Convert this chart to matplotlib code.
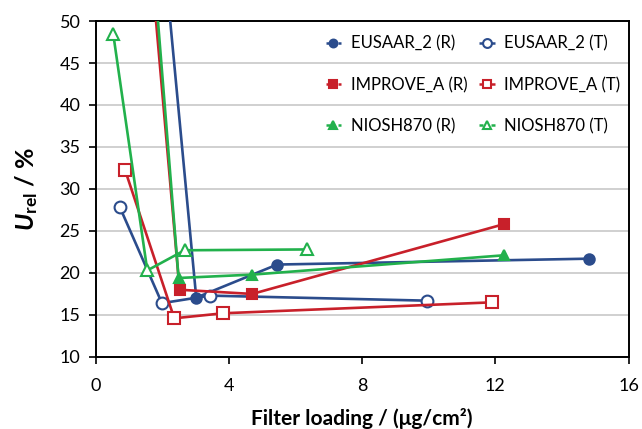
import matplotlib
matplotlib.use("Agg")
import matplotlib.pyplot as plt

plt.rcParams['font.family'] = ['Lato', 'DejaVu Sans']
plt.rcParams['mathtext.fontset'] = 'custom'
plt.rcParams['mathtext.bf'] = 'Lato:bold'
plt.rcParams['mathtext.it'] = 'Lato:italic'
plt.rcParams['mathtext.rm'] = 'Lato'
try:
    plt.rcParams['mathtext.bfit'] = 'Lato:bold:italic'
except Exception:
    pass

# Data
eusaar_r_x = [1.1, 3.02, 5.45, 14.8]
eusaar_r_y = [98.0, 17.06, 21.0, 21.7]
eusaar_t_x = [0.73, 1.99, 3.42, 9.95]
eusaar_t_y = [27.8, 16.4, 17.3, 16.7]
improve_r_x = [0.95, 2.52, 4.7, 12.25]
improve_r_y = [89.0, 18.0, 17.5, 25.8]
improve_t_x = [0.88, 2.36, 3.83, 11.9]
improve_t_y = [32.3, 14.6, 15.2, 16.5]
niosh_r_x = [0.9, 2.49, 4.7, 12.25]
niosh_r_y = [98.0, 19.4, 19.8, 22.1]
niosh_t_x = [0.53, 1.55, 2.67, 6.36]
niosh_t_y = [48.4, 20.3, 22.7, 22.8]

labels = ['EUSAAR_2 (R)', 'EUSAAR_2 (T)', 'IMPROVE_A (R)', 'IMPROVE_A (T)',
          'NIOSH870 (R)', 'NIOSH870 (T)']
x_ticks = [0, 4, 8, 12, 16]
y_ticks = [10, 15, 20, 25, 30, 35, 40, 45, 50]

blue = '#2B4C8C'
red = '#C8202A'
green = '#22B14C'

fig = plt.figure(figsize=(6.42, 4.29), dpi=100)
ax = fig.add_axes([0.149, 0.168, 0.830, 0.783])

lw = 1.9
ms = 7.5
series = [
    (eusaar_r_x, eusaar_r_y, blue, 'o', True),
    (eusaar_t_x, eusaar_t_y, blue, 'o', False),
    (improve_r_x, improve_r_y, red, 's', True),
    (improve_t_x, improve_t_y, red, 's', False),
    (niosh_r_x, niosh_r_y, green, '^', True),
    (niosh_t_x, niosh_t_y, green, '^', False),
]
handles = []
for (x, y, c, m, filled), lab in zip(series, labels):
    h, = ax.plot(x, y, color=c, lw=lw, marker=m,
                 markersize=ms if filled else ms + 1,
                 markerfacecolor=c if filled else 'white',
                 markeredgecolor=c,
                 markeredgewidth=1.5, label=lab, clip_on=True, zorder=3)
    handles.append(h)

ax.set_xlim(0, 16)
ax.set_ylim(10, 50)
ax.set_xticks(x_ticks)
ax.set_yticks(y_ticks)
ax.yaxis.grid(True, color='#C8C8C8', lw=1.2)
ax.set_axisbelow(True)
for s in ax.spines.values():
    s.set_color('black')
    s.set_linewidth(1.4)
ax.tick_params(axis='both', direction='out', length=5, width=1.2,
               labelsize=13, colors='black')
ax.tick_params(axis='x', pad=10)
ax.tick_params(axis='y', pad=6)

ax.set_xlabel('Filter loading / (μg/cm²)', fontsize=15, fontweight='bold', labelpad=10)
ax.set_ylabel(r'$\mathbfit{U}_{\mathbf{rel}}$ / %', fontsize=18, fontweight='bold', labelpad=14)

order = [0, 2, 4, 1, 3, 5]
leg = ax.legend([handles[i] for i in order], [labels[i] for i in order],
                ncol=2, loc='upper right', frameon=False, fontsize=12,
                handlelength=0.95, handletextpad=0.55, labelspacing=1.5,
                columnspacing=0.72, markerscale=0.75, borderaxespad=0.0,
                borderpad=0.3, bbox_to_anchor=(0.994, 0.971))
for lh in leg.get_lines():
    lh.set_linestyle((0, (1.6, 3.2)))
    lh.set_linewidth(1.8)

fig.savefig('out.png', dpi=100)
